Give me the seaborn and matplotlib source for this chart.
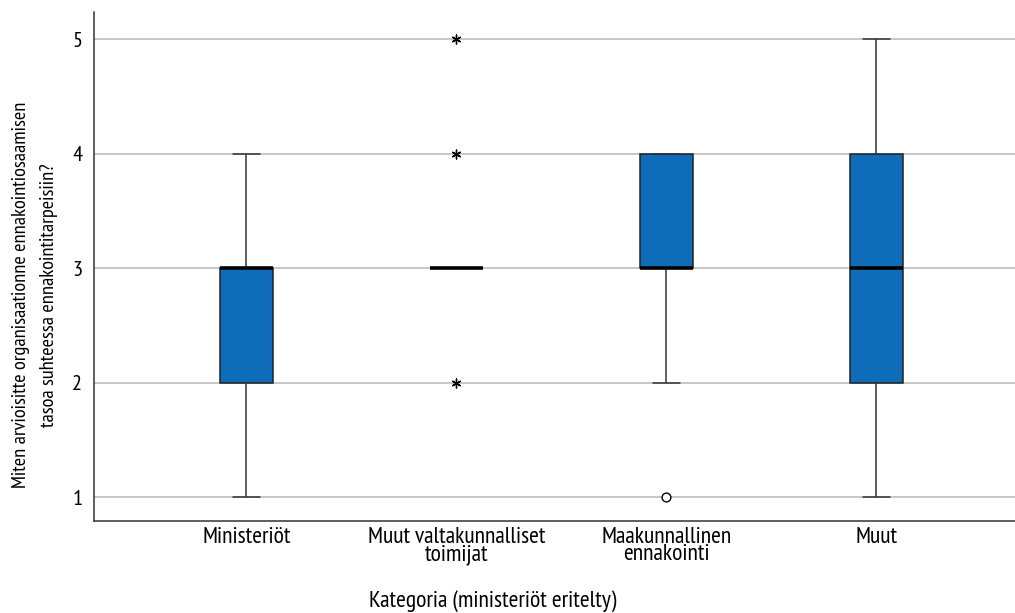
import matplotlib
matplotlib.use("Agg")
import matplotlib.pyplot as plt
from matplotlib import cbook
import numpy as np
import pandas as pd
import seaborn as sns

# categories and individual answers (scale 1-5) per category
categories = ["Ministeriöt", "Muut valtakunnalliset\ntoimijat",
              "Maakunnallinen\nennakointi", "Muut"]
ministeriot = [1, 2, 2, 2, 3, 3, 3, 3, 3, 4]
muut_valtakunnalliset = [2, 3, 3, 3, 3, 3, 3, 3, 3, 3, 4, 5]
maakunnallinen = [1, 2, 3, 3, 3, 3, 4, 4, 4, 4, 4]
muut = [1, 2, 2, 3, 3, 3, 4, 4, 5]
y_ticks = [1, 2, 3, 4, 5]

groups = [ministeriot, muut_valtakunnalliset, maakunnallinen, muut]
df = pd.DataFrame({
    "kategoria": np.repeat(categories, [len(g) for g in groups]),
    "arvo": np.concatenate(groups),
})

sns.set_style("white")
plt.rcParams["font.family"] = ["PT Sans Narrow", "DejaVu Sans"]
plt.rcParams["text.color"] = "black"

fig = plt.figure(figsize=(10.15, 6.13), dpi=100)
ax = fig.add_axes([0.0926, 0.150, 0.9074, 0.830])

for y in y_ticks:
    ax.axhline(y, color="#b8b8b8", linewidth=1.1, zorder=0)

sns.boxplot(data=df, x="kategoria", y="arvo", order=categories, ax=ax,
            width=0.252, color="#0f6cb8", saturation=1, showfliers=False,
            linecolor="#222222", linewidth=1.1,
            medianprops=dict(color="black", linewidth=2.6),
            boxprops=dict(zorder=2), whiskerprops=dict(color="#333333"),
            capprops=dict(color="#333333"))

# outliers (circle) and extremes (asterisk), SPSS style
for i, g in enumerate(groups):
    st = cbook.boxplot_stats(np.array(g, dtype=float))[0]
    iqr = st["q3"] - st["q1"]
    for v in st["fliers"]:
        far = v < st["q1"] - 3 * iqr or v > st["q3"] + 3 * iqr
        if far:
            ax.scatter(i, v, marker=(6, 2, 0), s=40, color="black", linewidths=1.0, zorder=4)
        else:
            ax.scatter(i, v, marker="o", s=40, facecolor="white",
                       edgecolor="black", linewidths=1.0, zorder=4)

ax.set_xlim(-0.726, 3.66)
ax.set_ylim(0.79, 5.236)
ax.set_yticks(y_ticks)
ax.set_yticklabels([str(t) for t in y_ticks], fontsize=16, color="black")
ax.set_xticks(range(len(categories)))
ax.set_xticklabels(categories, fontsize=17, linespacing=0.8, color="black")
ax.tick_params(axis="y", length=0, pad=8.5)
ax.tick_params(axis="x", length=0, pad=4)

ax.set_xlabel("Kategoria (ministeriöt eritelty)", fontsize=17, color="black")
ax.xaxis.set_label_coords(0.433, -0.135)
ax.set_ylabel("Miten arvioisitte organisaationne ennakointiosaamisen\n"
              "tasoa suhteessa ennakointitarpeisiin?", fontsize=14.7,
              linespacing=1.7, color="black")
ax.yaxis.set_label_coords(-0.039, 0.444)

for s in ["top", "right"]:
    ax.spines[s].set_visible(False)
for s in ["left", "bottom"]:
    ax.spines[s].set_color("#333333")
    ax.spines[s].set_linewidth(1.1)

fig.savefig("out.png", dpi=100)
